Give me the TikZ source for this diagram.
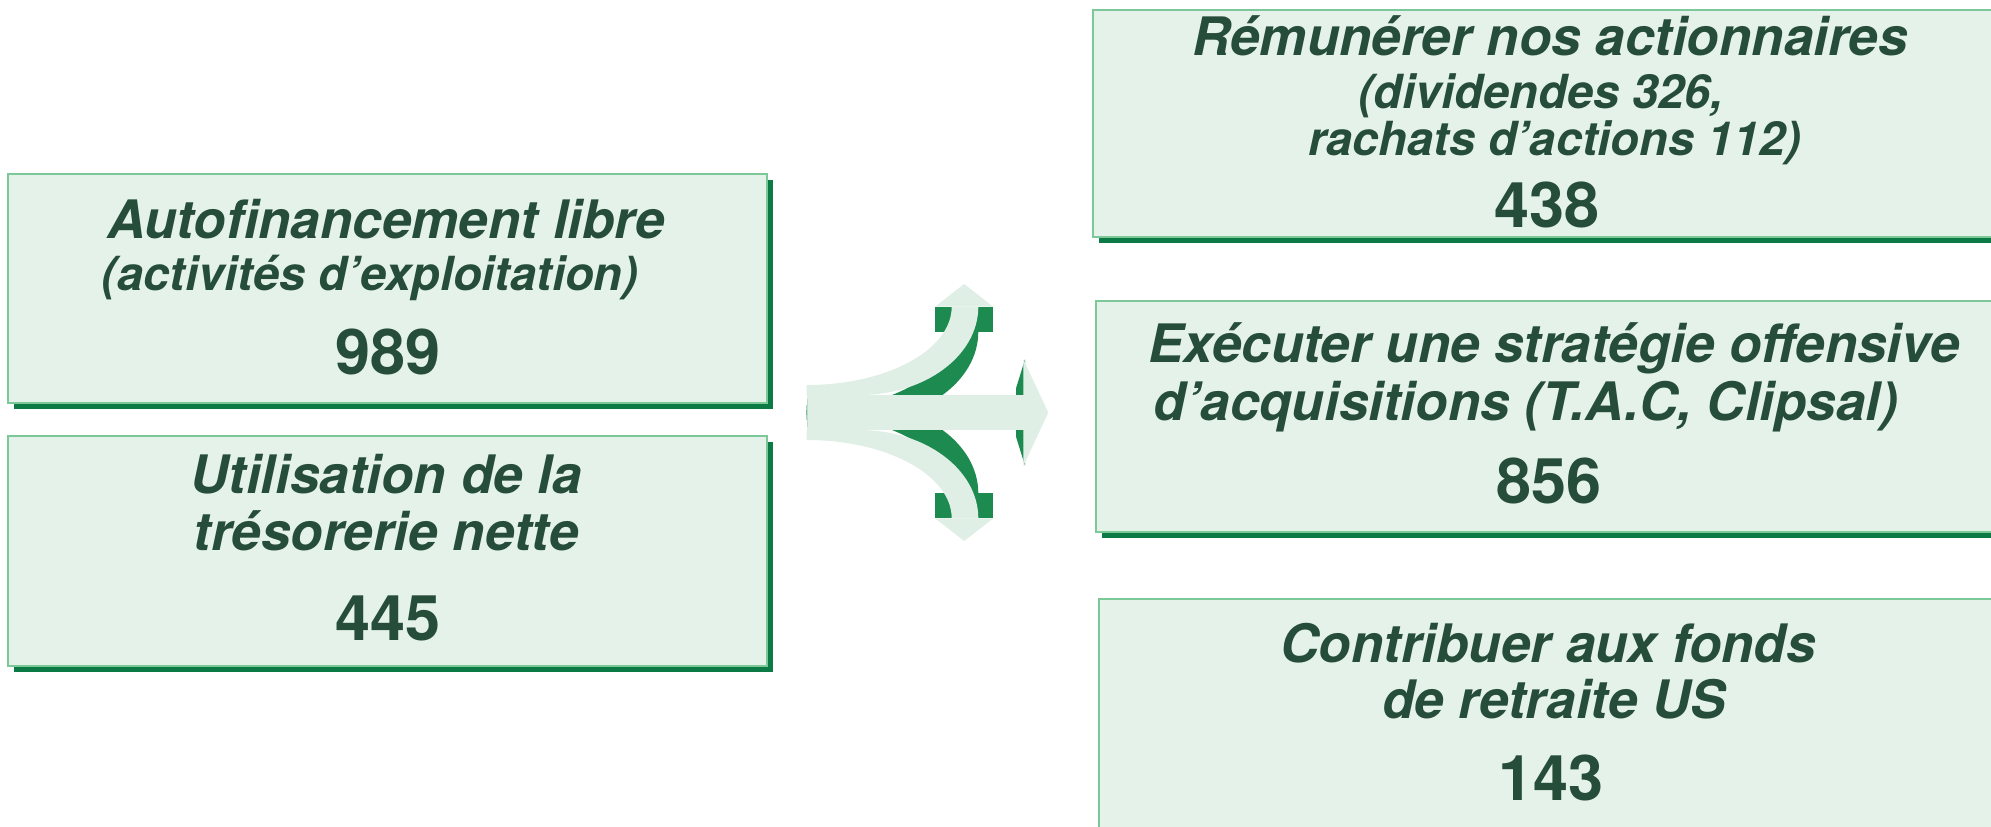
\documentclass[tikz,border=0pt]{standalone}
\usepackage{fontspec}
\setmainfont{TeX Gyre Heros}
\definecolor{boxfill}{HTML}{E5F2EA}
\definecolor{boxline}{HTML}{7DC898}
\definecolor{shadowc}{HTML}{0B7A45}
\definecolor{txtc}{HTML}{264D3A}
\definecolor{arrowlight}{HTML}{E0EFE6}
\definecolor{arrowdark}{HTML}{1D8A50}
\definecolor{arrowedge}{HTML}{BFDCCB}
\tikzset{
  panel/.style={draw=boxline, fill=boxfill, line width=1pt, rectangle, inner sep=0pt, outer sep=0pt, anchor=north west},
  panelshadow/.style={fill=shadowc},
  maintext/.style={font=\fontsize{26.5}{30}\selectfont\bfseries\itshape, text=txtc, inner sep=0pt, anchor=base},
  subtext/.style={font=\fontsize{23.5}{28}\selectfont\bfseries\itshape, text=txtc, inner sep=0pt, anchor=base},
  numtext/.style={font=\fontsize{31.5}{36}\selectfont\bfseries, text=txtc, inner sep=0pt, anchor=base},
}
% draws one panel: name, x1, y1, x2, y2 (pixel units)
\newcommand{\drawpanel}[5]{%
  \fill[panelshadow] (#2+6,#3+6) rectangle (#4+6,#5+6);
  \node[panel, minimum width={(#4-#2)*0.5pt}, minimum height={(#5-#3)*0.5pt}] (#1) at (#2,#3) {};
}
\newcommand{\armlightpart}{%
  \fill[arrowlight] (806.7,385) .. controls (886.7,385) and (951.7,350) .. (951.7,306.7)
     -- (978.3,306.7) .. controls (978.3,355.5) and (925.3,395) .. (860,395) -- (806.7,395) -- cycle;
  \fill[arrowlight] (935,306.7) -- (964.2,284) -- (993.3,306.7) -- cycle;
}
\newcommand{\armdarkpart}{%
  \fill[arrowdark] (935,306.7) rectangle (993.3,331.7);
  \begin{scope}[shift={(0,25)}]
    \fill[arrowdark] (806.7,385) .. controls (886.7,385) and (951.7,350) .. (951.7,306.7)
       -- (978.3,306.7) .. controls (978.3,355.5) and (925.3,395) .. (860,395) -- (806.7,395) -- cycle;
  \end{scope}
  \fill[arrowdark] (1025,359.3) -- (1025,396) -- (1016,396) -- (1016,388.3) -- cycle;
}
\begin{document}
\begin{tikzpicture}[x=0.5pt,y=-0.5pt]
\useasboundingbox (0,0) rectangle (1991,826);
\clip (0,0) rectangle (1991,826);

% panels
\drawpanel{b1}{8}{174}{767}{403}
\drawpanel{b2}{8}{436}{767}{666}
\drawpanel{b3}{1093}{10}{2010}{237}
\drawpanel{b4}{1096}{301}{2010}{532}
\drawpanel{b5}{1099}{599}{2010}{900}

% texts, left panels
\node[maintext] (b1a) at (386,238) {Autofinancement libre};
\node[subtext]  (b1b) at (370,290) {(activités d’exploitation)};
\node[numtext]  (b1n) at (388,374) {989};

\node[maintext] (b2a) at (386,493) {Utilisation de la};
\node[maintext] (b2b) at (386,550) {trésorerie nette};
\node[numtext]  (b2n) at (388,640) {445};

% texts, right panels
\node[maintext] (b3a) at (1550,55) {Rémunérer nos actionnaires};
\node[subtext]  (b3b) at (1541,108) {(dividendes 326,};
\node[subtext]  (b3c) at (1555,155) {rachats d’actions 112)};
\node[numtext]  (b3n) at (1547,227) {438};

\node[maintext] (b4a) at (1554,362) {Exécuter une stratégie offensive};
\node[maintext] (b4b) at (1526,420) {d’acquisitions (T.A.C, Clipsal)};
\node[numtext]  (b4n) at (1549,503) {856};

\node[maintext] (b5a) at (1548,662) {Contribuer aux fonds};
\node[maintext] (b5b) at (1554,718) {de retraite US};
\node[numtext]  (b5n) at (1551,800) {143};

% splitting arrow: dark depth first
\armdarkpart
\begin{scope}[shift={(0,825)}, yscale=-1]
  \armdarkpart
\end{scope}
% light faces
\armlightpart
\begin{scope}[shift={(0,825)}, yscale=-1]
  \armlightpart
\end{scope}
\fill[arrowlight] (806.7,395) rectangle (1023.5,430);
\fill[arrowlight] (1023.3,359.3) -- (1048.3,412.5) -- (1023.3,466) -- cycle;
\draw[arrowedge, line width=0.75pt] (807.5,399) -- (807.5,427);
\end{tikzpicture}
\end{document}
